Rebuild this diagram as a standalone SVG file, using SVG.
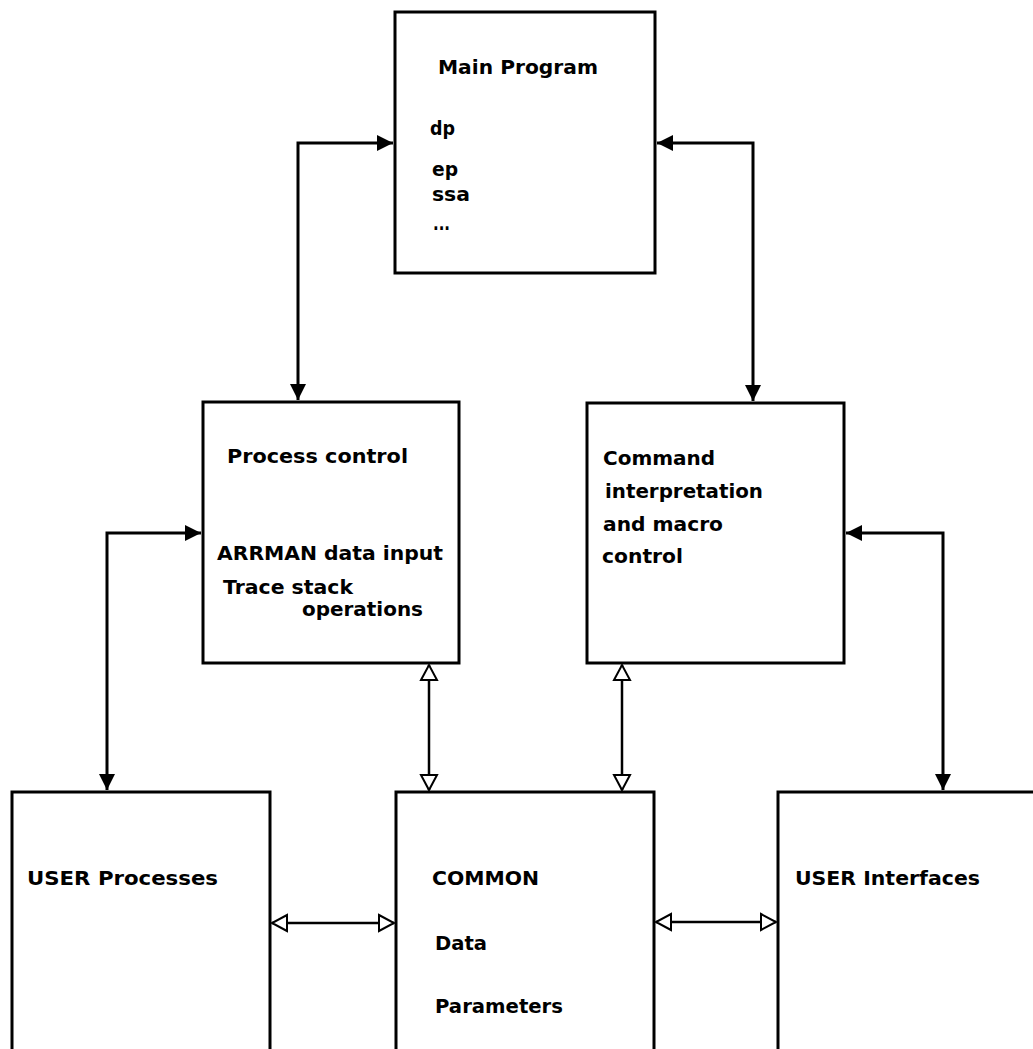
<svg xmlns="http://www.w3.org/2000/svg" width="1033" height="1049" viewBox="0 0 1033 1049">
<style>
.box{fill:#fff;stroke:#000;stroke-width:3}
.t{font-family:"DejaVu Sans","Liberation Sans",Arial,sans-serif;font-weight:bold;font-size:20px;fill:#000}
.c{fill:none;stroke:#000;stroke-width:3}
.h{fill:none;stroke:#000;stroke-width:2.5}
</style>
<defs>
<marker id="fa" markerUnits="userSpaceOnUse" markerWidth="18" markerHeight="18" viewBox="0 0 18 18" refX="17" refY="9" orient="auto-start-reverse">
<path d="M1,1 L17,9 L1,17 z" fill="#000"/>
</marker>
<marker id="ha" markerUnits="userSpaceOnUse" markerWidth="20" markerHeight="20" viewBox="0 0 20 20" refX="17" refY="10" orient="auto-start-reverse">
<path d="M2,2 L17,10 L2,18 z" fill="#fff" stroke="#000" stroke-width="2"/>
</marker>
</defs>
<rect width="1033" height="1049" fill="#fff"/>
<g id="connectors">
<path class="c" d="M298,400 L298,143 L393,143" marker-start="url(#fa)" marker-end="url(#fa)"/>
<path class="c" d="M753,401 L753,143 L657,143" marker-start="url(#fa)" marker-end="url(#fa)"/>
<path class="c" d="M107,790 L107,533 L201,533" marker-start="url(#fa)" marker-end="url(#fa)"/>
<path class="c" d="M943,790 L943,533 L846,533" marker-start="url(#fa)" marker-end="url(#fa)"/>
<path class="h" d="M429,665 L429,790" marker-start="url(#ha)" marker-end="url(#ha)"/>
<path class="h" d="M622,665 L622,790" marker-start="url(#ha)" marker-end="url(#ha)"/>
<path class="h" d="M272,923 L394,923" marker-start="url(#ha)" marker-end="url(#ha)"/>
<path class="h" d="M656,922 L776,922" marker-start="url(#ha)" marker-end="url(#ha)"/>
</g>
<g id="main-program">
<rect class="box" x="395" y="12" width="260" height="261"/>
<text class="t" x="438" y="74" textLength="160" lengthAdjust="spacingAndGlyphs">Main Program</text>
<text class="t" x="430" y="135" textLength="25" lengthAdjust="spacingAndGlyphs">dp</text>
<text class="t" x="432" y="176" textLength="26" lengthAdjust="spacingAndGlyphs">ep</text>
<text class="t" x="432" y="201" textLength="38" lengthAdjust="spacingAndGlyphs">ssa</text>
<text class="t" x="433" y="230" textLength="17" lengthAdjust="spacingAndGlyphs">...</text>
</g>
<g id="process-control">
<rect class="box" x="203" y="402" width="256" height="261"/>
<text class="t" x="227" y="463" textLength="181" lengthAdjust="spacingAndGlyphs">Process control</text>
<text class="t" x="217" y="560" textLength="226" lengthAdjust="spacingAndGlyphs">ARRMAN data input</text>
<text class="t" x="223" y="594" textLength="130" lengthAdjust="spacingAndGlyphs">Trace stack</text>
<text class="t" x="302" y="616" textLength="121" lengthAdjust="spacingAndGlyphs">operations</text>
</g>
<g id="command-interpretation">
<rect class="box" x="587" y="403" width="257" height="260"/>
<text class="t" x="603" y="465" textLength="112" lengthAdjust="spacingAndGlyphs">Command</text>
<text class="t" x="605" y="498" textLength="158" lengthAdjust="spacingAndGlyphs">interpretation</text>
<text class="t" x="603" y="531" textLength="120" lengthAdjust="spacingAndGlyphs">and macro</text>
<text class="t" x="602" y="563" textLength="81" lengthAdjust="spacingAndGlyphs">control</text>
</g>
<g id="user-processes">
<rect class="box" x="12" y="792" width="258" height="300"/>
<text class="t" x="27" y="885" textLength="191" lengthAdjust="spacingAndGlyphs">USER Processes</text>
</g>
<g id="common">
<rect class="box" x="396" y="792" width="258" height="300"/>
<text class="t" x="432" y="885" textLength="107" lengthAdjust="spacingAndGlyphs">COMMON</text>
<text class="t" x="435" y="950" textLength="52" lengthAdjust="spacingAndGlyphs">Data</text>
<text class="t" x="435" y="1013" textLength="128" lengthAdjust="spacingAndGlyphs">Parameters</text>
</g>
<g id="user-interfaces">
<rect class="box" x="778" y="792" width="300" height="300"/>
<text class="t" x="795" y="885" textLength="185" lengthAdjust="spacingAndGlyphs">USER Interfaces</text>
</g>
</svg>
